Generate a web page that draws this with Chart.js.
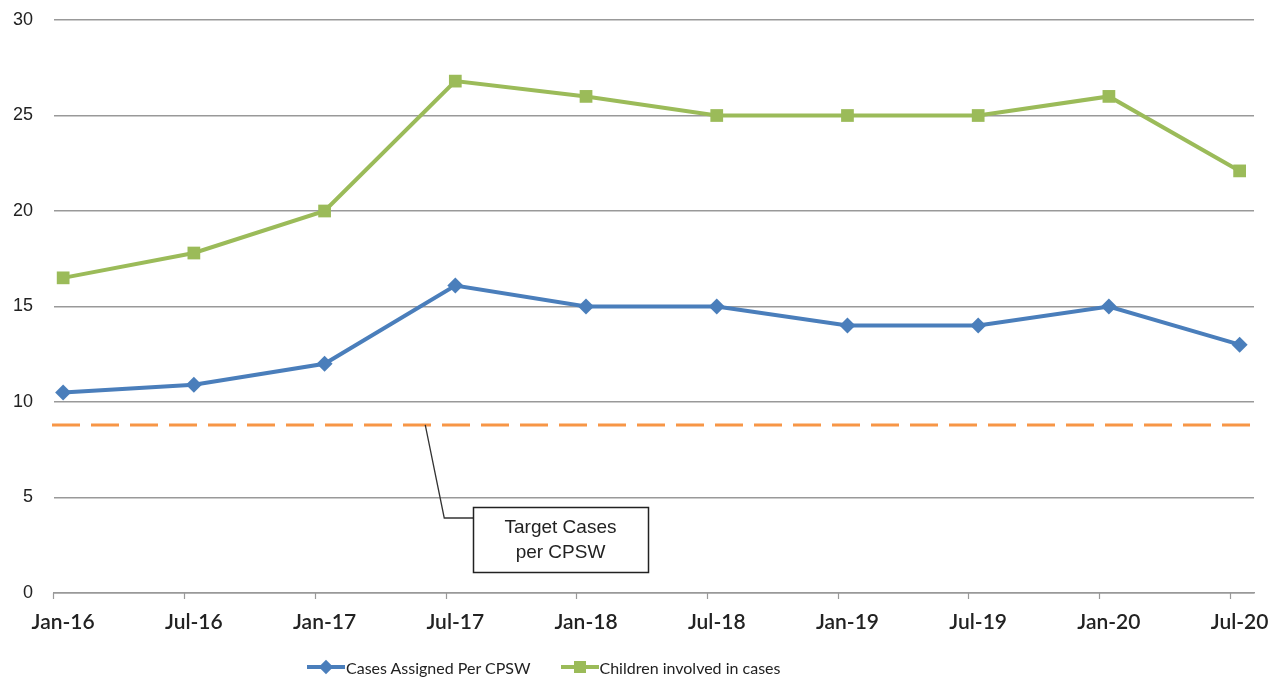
<!DOCTYPE html>
<html>
<head>
<meta charset="utf-8">
<script src="https://cdn.jsdelivr.net/npm/chart.js@4.4.1/dist/chart.umd.min.js"></script>
<style>
  html, body { margin: 0; padding: 0; background: #fff; }
  #wrap { position: relative; width: 1284px; height: 679px; }
  #legend {
    position: absolute; top: 656px; left: 307px;
    display: flex; gap: 30px;
    font-family: "Lato", "DejaVu Sans", sans-serif; font-size: 16px; color: #222;
  }
  .item { display: flex; align-items: center; }
  .swatch { position: relative; width: 38px; height: 22px; margin-right: 1px; }
  .swatch .ln { position: absolute; left: 0; right: 0; top: 9px; height: 4px; }
  .swatch .mk { position: absolute; left: 13px; top: 5px; width: 12px; height: 12px; }
  .swatch .mk.dia { transform: rotate(45deg) scale(0.85); }
</style>
</head>
<body>
<div id="wrap">
  <canvas id="chart" width="1284" height="679"></canvas>
  <div id="legend">
    <div class="item"><div class="swatch"><div class="ln" style="background:#4a7ebb"></div><div class="mk dia" style="background:#4a7ebb"></div></div>Cases Assigned Per CPSW</div>
    <div class="item"><div class="swatch"><div class="ln" style="background:#9bbb59"></div><div class="mk" style="background:#9bbb59"></div></div>Children involved in cases</div>
  </div>
</div>
<script>
// ===== DATA =====
const months = ["Jan-16", "Jul-16", "Jan-17", "Jul-17", "Jan-18", "Jul-18", "Jan-19", "Jul-19", "Jan-20", "Jul-20"];
const casesPerWorker = [10.5, 10.9, 12.0, 16.1, 15.0, 15.0, 14.0, 14.0, 15.0, 13.0];
const childrenInCases = [16.5, 17.8, 20.0, 26.8, 26.0, 25.0, 25.0, 25.0, 26.0, 22.1];
const targetCases = 8.8;
const yTicks = [0, 5, 10, 15, 20, 25, 30];

const BLUE = "#4a7ebb";
const GREEN = "#9bbb59";
const ORANGE = "#f79646";

// the axis in the original runs a bit past the first and last points
const X_MIN = -0.07;
const X_MAX = 9.11;

const toPoints = (arr) => arr.map((v, i) => ({ x: i, y: v }));

// target line + callout + offset tick marks
const extrasPlugin = {
    id: "extras",
    beforeDatasetsDraw(chart) {
        const { ctx, chartArea, scales } = chart;
        const y = scales.y.getPixelForValue(targetCases);
        ctx.save();
        ctx.strokeStyle = ORANGE;
        ctx.lineWidth = 3;
        ctx.setLineDash([28, 11]);
        ctx.beginPath();
        ctx.moveTo(chartArea.left - 2, y);
        ctx.lineTo(chartArea.right + 4, y);
        ctx.stroke();
        ctx.restore();
    },
    afterDraw(chart) {
        const { ctx, chartArea, scales } = chart;
        const x = scales.x;
        const yT = scales.y.getPixelForValue(targetCases);

        // tick marks under the x axis
        ctx.save();
        ctx.strokeStyle = "#999";
        ctx.lineWidth = 1.2;
        for (let i = 0; i < months.length; i++) {
            const px = Math.round(x.getPixelForValue(i - 0.075)) + 0.5;
            ctx.beginPath();
            ctx.moveTo(px, chartArea.bottom);
            ctx.lineTo(px, chartArea.bottom + 6);
            ctx.stroke();
        }

        // callout for the target line
        const ax = x.getPixelForValue(2.77);
        const boxL = 473, boxT = 507, boxW = 175, boxH = 65;
        ctx.strokeStyle = "#333";
        ctx.lineWidth = 1.3;
        ctx.beginPath();
        ctx.moveTo(ax, yT);
        ctx.lineTo(ax + 19, boxT + 11);
        ctx.lineTo(boxL, boxT + 11);
        ctx.stroke();
        ctx.lineWidth = 1.5;
        ctx.strokeStyle = "#222";
        ctx.fillStyle = "#fff";
        ctx.fillRect(boxL, boxT, boxW, boxH);
        ctx.strokeRect(boxL + 0.5, boxT + 0.5, boxW, boxH);
        ctx.fillStyle = "#222";
        ctx.font = '19px "Liberation Sans", Arial, sans-serif';
        ctx.textAlign = "center";
        ctx.textBaseline = "middle";
        ctx.fillText("Target Cases", boxL + boxW / 2, boxT + 21);
        ctx.fillText("per CPSW", boxL + boxW / 2, boxT + 46);
        ctx.restore();
    },
};

new Chart(document.getElementById("chart"), {
    type: "line",
    data: {
        datasets: [
            {
                label: "Cases Assigned Per CPSW",
                data: toPoints(casesPerWorker),
                borderColor: BLUE,
                backgroundColor: BLUE,
                borderWidth: 4,
                pointStyle: "rectRot",
                pointRadius: 8,
                pointBorderWidth: 0,
                tension: 0,
            },
            {
                label: "Children involved in cases",
                data: toPoints(childrenInCases),
                borderColor: GREEN,
                backgroundColor: GREEN,
                borderWidth: 4,
                pointStyle: "rect",
                pointRadius: 9,
                pointBorderWidth: 0,
                tension: 0,
            },
        ],
    },
    options: {
        responsive: false,
        animation: false,
        layout: { padding: { top: 20, right: 30, left: 0, bottom: 0 } },
        plugins: {
            legend: { display: false },
            tooltip: { enabled: false },
        },
        scales: {
            x: {
                type: "linear",
                min: X_MIN,
                max: X_MAX,
                afterBuildTicks: (s) => { s.ticks = months.map((_, i) => ({ value: i })); },
                afterFit: (s) => { s.height = 86; s.paddingTop = 0; s.paddingBottom = 0; },
                grid: { display: false },
                border: { display: true, color: "#999", width: 1.5 },
                ticks: {
                    padding: 9,
                    maxRotation: 0,
                    autoSkip: false,
                    color: "#222",
                    font: { family: "Lato, 'DejaVu Sans', sans-serif", size: 21, weight: "600" },
                    callback: (v) => months[v],
                },
            },
            y: {
                min: 0,
                max: 30,
                afterBuildTicks: (s) => { s.ticks = yTicks.map((v) => ({ value: v })); },
                afterFit: (s) => { s.width = 54; s.paddingTop = 0; s.paddingBottom = 0; },
                grid: { color: "#999", lineWidth: 1.5, drawTicks: false },
                border: { display: false },
                ticks: {
                    padding: 21,
                    color: "#222",
                    font: { family: "'Liberation Sans', Arial, sans-serif", size: 18 },
                },
            },
        },
    },
    plugins: [extrasPlugin],
});
</script>
</body>
</html>
